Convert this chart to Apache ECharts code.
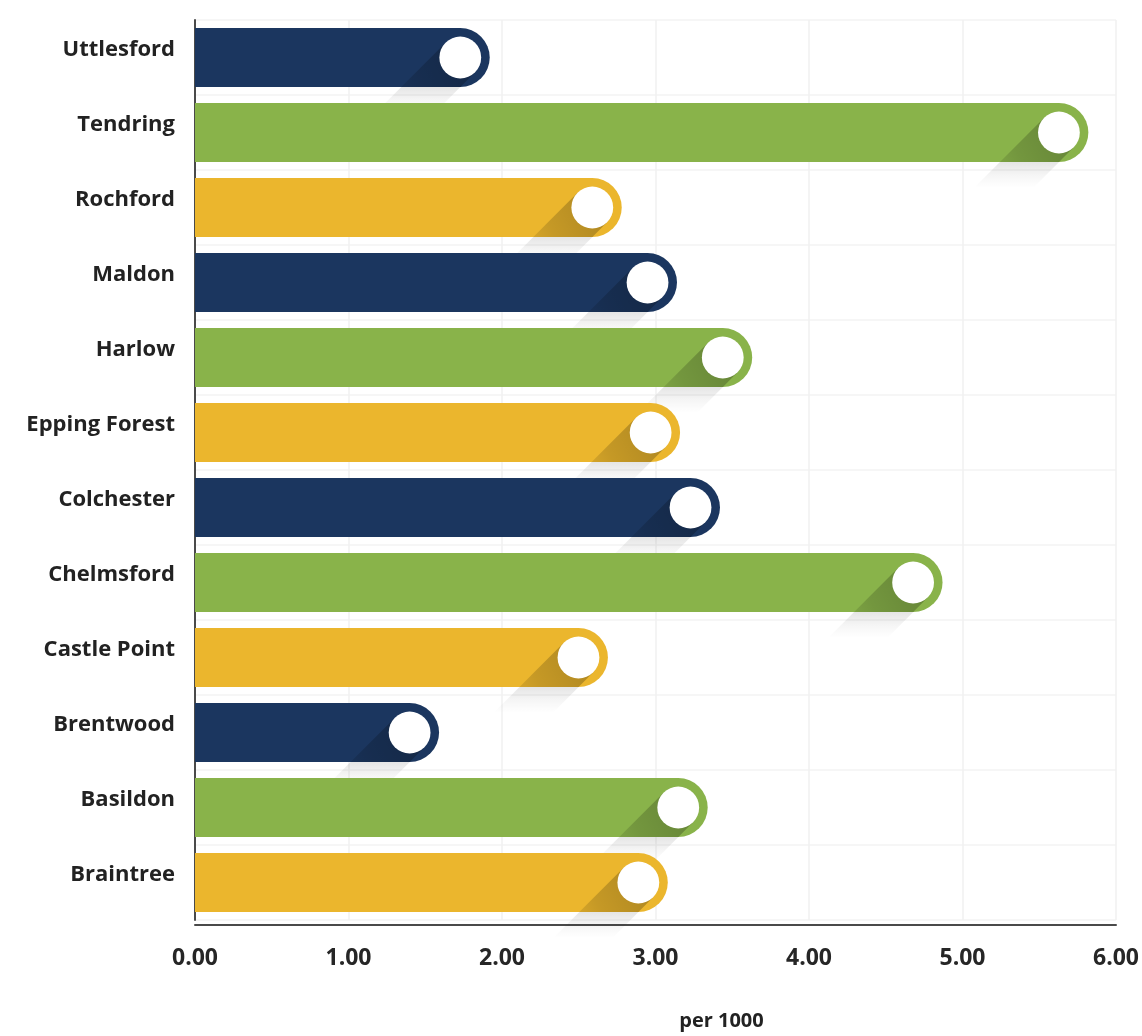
<!DOCTYPE html>
<html>
<head>
<meta charset="utf-8">
<title>Rate per 1000 by district</title>
<script src="https://cdn.jsdelivr.net/npm/echarts@6/dist/echarts.min.js"></script>
<style>
  html, body { margin: 0; padding: 0; background: #ffffff; }
  #chart { width: 1142px; height: 1036px; }
</style>
</head>
<body>
<div id="chart"></div>
<script>
// Districts, listed top to bottom
const districts = [
  'Uttlesford', 'Tendring', 'Rochford', 'Maldon', 'Harlow', 'Epping Forest',
  'Colchester', 'Chelmsford', 'Castle Point', 'Brentwood', 'Basildon', 'Braintree'
];
// Rate per 1000 for each district
const ratePer1000 = [1.92, 5.82, 2.78, 3.14, 3.63, 3.16, 3.42, 4.87, 2.69, 1.59, 3.34, 3.08];
// Value axis ticks
const axisMin = 0;
const axisMax = 6;
const axisStep = 1;

// Bar colours cycle navy / green / yellow down the rows
const palette = ['#1b365f', '#89b34a', '#ebb62d'];

const chart = echarts.init(document.getElementById('chart'), null, { renderer: 'canvas' });

const labelFont = '"Open Sans", "Liberation Sans", sans-serif';

function renderPill(params, api) {
  const value = api.value(0);
  const cat = api.value(1);
  const end = api.coord([value, cat]);
  const start = api.coord([0, cat]);
  const band = api.size([0, 1])[1];
  const h = band * 0.785;
  const r = h / 2;
  const top = end[1] - r;
  const bottom = top + h;
  const color = palette[params.dataIndex % palette.length];

  // knob sits concentric with the rounded end
  const cx = end[0] - r;
  const cy = end[1];
  const knobR = r * 0.71;
  const k = Math.SQRT1_2;

  // long shadow cast toward the lower left, split at the bar's bottom edge
  const p1 = [cx - k * knobR, cy - k * knobR];
  const p2 = [cx + k * knobR, cy + k * knobR];
  const q1 = [p1[0] - (bottom - p1[1]), bottom];
  const q2 = [p2[0] - (bottom - p2[1]), bottom];
  const drop = 26;
  const s1 = [q1[0] - drop, bottom + drop];
  const s2 = [q2[0] - drop, bottom + drop];

  return {
    type: 'group',
    children: [
      {
        type: 'rect',
        shape: { x: start[0], y: top, width: Math.max(end[0] - start[0], 0), height: h, r: [0, r, r, 0] },
        style: { fill: color }
      },
      {
        type: 'polygon',
        shape: { points: [p1, p2, q2, q1] },
        style: {
          fill: {
            type: 'linear',
            global: true,
            x: cx, y: cy,
            x2: q1[0], y2: bottom,
            colorStops: [
              { offset: 0, color: 'rgba(0,0,0,0.24)' },
              { offset: 0.7, color: 'rgba(0,0,0,0.16)' },
              { offset: 1, color: 'rgba(0,0,0,0.10)' }
            ]
          }
        }
      },
      {
        type: 'polygon',
        shape: { points: [q1, q2, s2, s1] },
        style: {
          fill: {
            type: 'linear',
            global: true,
            x: 0, y: bottom,
            x2: 0, y2: bottom + drop,
            colorStops: [
              { offset: 0, color: 'rgba(0,0,0,0.10)' },
              { offset: 0.5, color: 'rgba(0,0,0,0.04)' },
              { offset: 1, color: 'rgba(0,0,0,0)' }
            ]
          }
        }
      },
      {
        type: 'circle',
        shape: { cx: cx, cy: cy, r: knobR },
        style: { fill: '#ffffff' }
      }
    ]
  };
}

chart.setOption({
  backgroundColor: '#ffffff',
  animation: false,
  grid: { left: 195, right: 25, top: 20, bottom: 112, containLabel: false },
  xAxis: {
    type: 'value',
    min: axisMin,
    max: axisMax,
    interval: axisStep,
    offset: 5,
    name: 'per 1000',
    nameLocation: 'middle',
    nameGap: 86,
    nameTextStyle: {
      fontFamily: labelFont, fontWeight: 'bold', fontSize: 20, color: '#222222',
      padding: [0, 0, 0, 132]
    },
    axisLine: { show: true, lineStyle: { color: '#4a4a4a', width: 2 } },
    axisTick: { show: false },
    axisLabel: {
      margin: 22,
      fontFamily: labelFont, fontWeight: 'bold', fontSize: 23, color: '#262626',
      formatter: v => v.toFixed(2)
    },
    splitLine: { show: true, lineStyle: { color: '#f1f1f1', width: 1.5 } }
  },
  yAxis: {
    type: 'category',
    inverse: true,
    data: districts,
    axisLine: { show: true, lineStyle: { color: '#4a4a4a', width: 2 } },
    axisTick: { show: false },
    axisLabel: {
      margin: 20,
      verticalAlign: 'bottom',
      lineHeight: 16,
      fontFamily: labelFont, fontWeight: 'bold', fontSize: 22, color: '#222222'
    },
    splitLine: { show: true, lineStyle: { color: '#f3f3f3', width: 1.5 } }
  },
  series: [{
    type: 'custom',
    renderItem: renderPill,
    encode: { x: 0, y: 1 },
    data: ratePer1000.map((v, i) => [v, i]),
    clip: false
  }]
});
</script>
</body>
</html>
